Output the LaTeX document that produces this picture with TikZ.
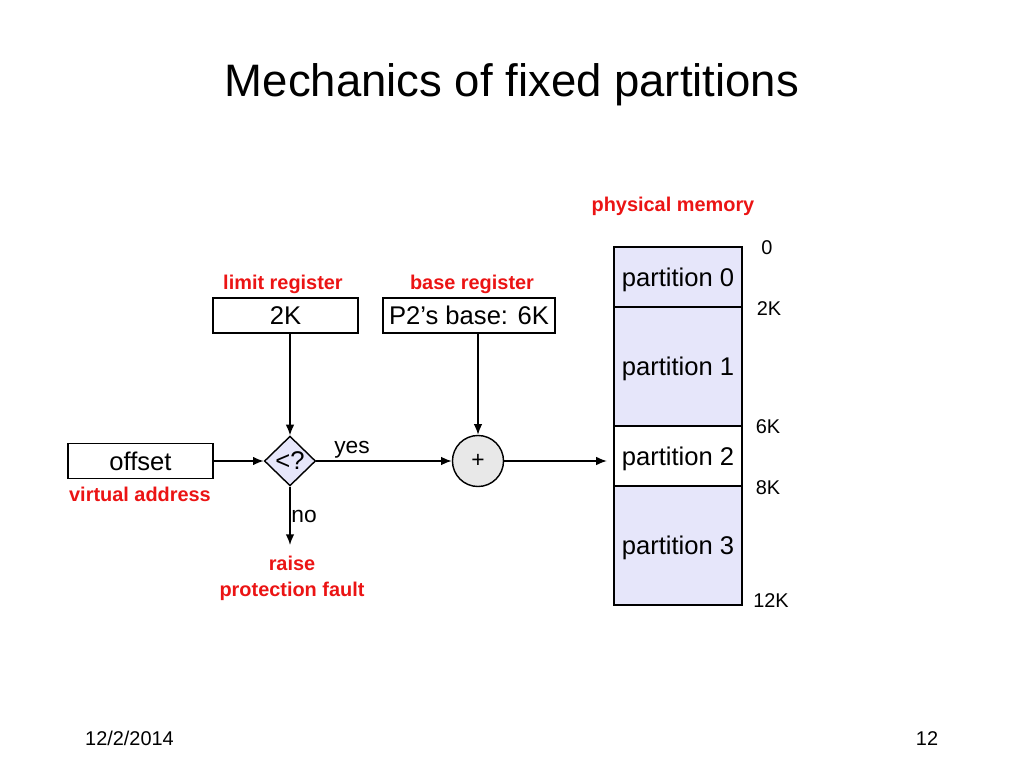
\documentclass[tikz,border=0pt]{standalone}
\usepackage{fontspec}
\setmainfont{Liberation Sans}
\usetikzlibrary{positioning}
\usetikzlibrary{shapes.geometric}
\usetikzlibrary{arrows.meta}
\definecolor{labelred}{RGB}{235,20,20}
\definecolor{lavender}{RGB}{230,230,250}
\definecolor{sumgrey}{RGB}{232,232,232}
\tikzset{
	x=0.703125pt, y=-0.703125pt,
	every path/.style={line width=1pt},
	every edge/.style={draw, -{Latex[length=7.5pt, width=6pt]}},
	reg/.style={rectangle, draw, minimum width=102pt, minimum height=24.6pt, inner sep=0pt, font=\fontsize{18}{21}\selectfont},
	redlabel/.style={text=labelred, font=\bfseries\fontsize{14}{18.3}\selectfont, align=center},
	plain/.style={font=\fontsize{16}{19}\selectfont},
	addr/.style={font=\fontsize{14}{17}\selectfont, anchor=base},
	part/.style={rectangle, draw, fill=lavender, minimum width=90pt, inner sep=0pt, outer sep=0pt, text depth=0pt, font=\fontsize{18}{21}\selectfont},
	compare/.style={diamond, draw, fill=lavender, minimum width=36pt, minimum height=35pt, inner sep=0pt, font=\fontsize{18}{21}\selectfont},
	adder/.style={circle, draw, fill=sumgrey, minimum size=35.9pt, inner sep=0pt, font=\fontsize{16}{19}\selectfont}
}

\begin{document}
\begin{tikzpicture}
	\useasboundingbox (0,0) rectangle (1024,768);
	\node[anchor=base, font=\fontsize{32}{38}\selectfont] (title) at (512,97) {Mechanics of fixed partitions};
	
	% registers and address
	\node[reg] (offset) at (140.5,461) {offset};
	\node[redlabel, anchor=base] (vaddr) at (140,501) {virtual address};
	\node[reg] (limit) at (285.5,315.5) {2K};
	\node[redlabel, anchor=base] (limitlbl) at (283,290) {limit register};
	\node[reg, minimum width=121pt] (base) at (469,315.5) {P2’s base: 6K};
	\node[redlabel, anchor=base] (baselbl) at (472,290) {base register};
	
	\node[compare] (cmp) at (290,461) {<?};
	\node[adder] (sum) at (478,461) {+};
	\coordinate (fault) at (290,545);
	\node[plain, anchor=base] (yes) at (352,453) {yes};
	\node[plain, anchor=base] (no) at (304,522) {no};
	\node[redlabel] (raise) at (292,578) {raise\\protection fault};
	
	% physical memory
	\node[redlabel, anchor=base] (memlbl) at (673,212) {physical memory};
	\node[part, minimum height=42.2pt] (p0) at (678,277) {partition 0};
	\node[part, minimum height=83.7pt, below=0pt of p0] (p1) {partition 1};
	\node[part, fill=white, minimum height=42.2pt, below=0pt of p1] (p2) {partition 2};
	\node[part, minimum height=83.7pt, below=0pt of p2] (p3) {partition 3};
	\node[addr] (m0) at (767,255) {0};
	\node[addr] (m2) at (769,315) {2K};
	\node[addr] (m6) at (768,433) {6K};
	\node[addr] (m8) at (768,494) {8K};
	\node[addr] (m12) at (771,607) {12K};
	
	\path (offset) edge (cmp);
	\path (cmp.north |- limit.south) edge (cmp);
	\path (sum.north |- base.south) edge (sum);
	\path (cmp) edge (sum);
	\path (cmp) edge (fault);
	\path (sum) edge[shorten >=5pt] (sum -| p2.west);
	
	\node[anchor=base, font=\fontsize{14}{17}\selectfont] (date) at (129.5,745) {12/2/2014};
	\node[anchor=base, font=\fontsize{14}{17}\selectfont] (page) at (927,745) {12};
\end{tikzpicture}
\end{document}
